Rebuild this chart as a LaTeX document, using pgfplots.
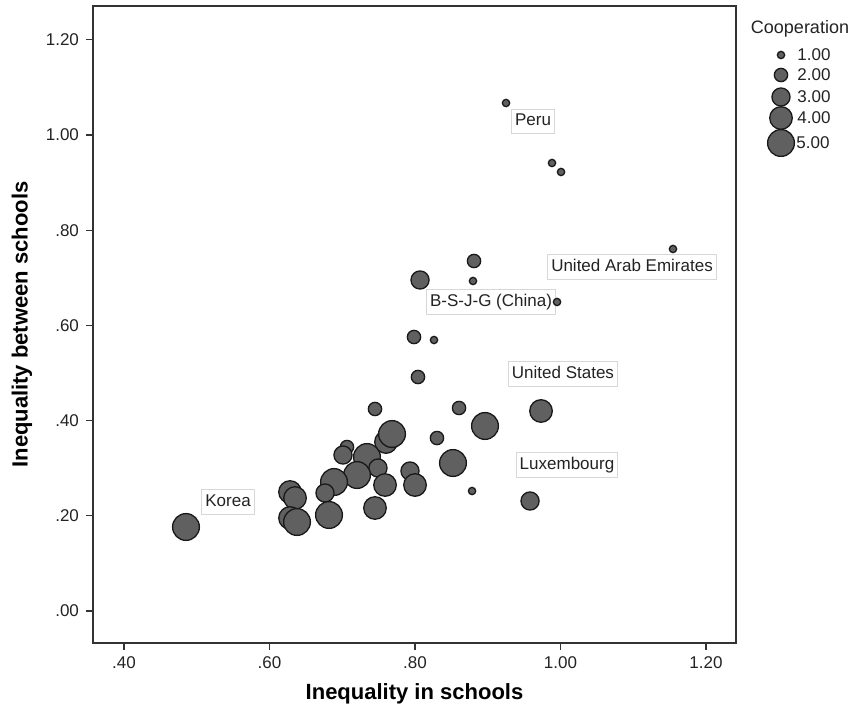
\documentclass[border=0pt]{standalone}
\usepackage{pgfplots}
\usepackage{pgfplotstable}
\pgfplotsset{compat=1.18}
\usepackage{fontspec}
\setmainfont{Liberation Sans}
\definecolor{bub}{RGB}{96,96,96}
\definecolor{edge}{RGB}{25,25,25}
\definecolor{boxc}{RGB}{215,215,215}
\definecolor{txt}{RGB}{35,35,35}

% x = inequality in schools, y = inequality between schools, c = cooperation
\pgfplotstableread{
x y c
0.4852 0.1765 5
0.9251 1.0672 1
0.9883 0.9412 1
1.0007 0.9223 1
1.1546 0.7605 1
0.8811 0.7353 2
0.8069 0.6954 3
0.8797 0.6933 1
0.9952 0.6492 1
0.7986 0.5756 2
0.8261 0.5693 1
0.8041 0.4916 2
0.8605 0.4265 2
0.7450 0.4244 2
0.9732 0.4202 4
0.8962 0.3887 5
0.8302 0.3634 2
0.8522 0.3109 5
0.7931 0.2941 3
0.8000 0.2647 4
0.8784 0.2521 1
0.9581 0.2311 3
0.7601 0.3550 4
0.7684 0.3718 5
0.7065 0.3445 2
0.7010 0.3277 3
0.7340 0.3235 5
0.7491 0.3004 3
0.7203 0.2857 5
0.6887 0.2710 5
0.7588 0.2647 4
0.6763 0.2479 3
0.6282 0.2500 4
0.6351 0.2374 4
0.7450 0.2164 4
0.6818 0.2017 5
0.6282 0.1954 4
0.6378 0.1870 5
}\bubbles

\pgfplotstableread{
x y c
781 55 1
781 75 2
781 97 3
781 118 4
781 143 5
}\legbubbles

\pgfplotsset{
  bubblestyle/.style={scatter, only marks, mark=*,
    scatter/use mapped color={draw=edge, fill=bub, line width=0.65pt},
    visualization depends on={\thisrow{c} \as \coop},
    scatter/@pre marker code/.append style={/tikz/mark size={(8.5+19.5*((\coop-1)/4)^0.85)/4-0.3}}},
}
\tikzset{
  lbl/.style={draw=boxc, fill=white, line width=0.5pt, inner xsep=1.8pt, inner ysep=2.1pt,
    text height=6.3pt, text depth=1.8pt, font=\fontsize{8.5}{10}\selectfont, text=txt},
}

\begin{document}
\begin{tikzpicture}
\begin{axis}[
  at={(0,0)}, anchor=south west,
  scale only axis, width=321.5pt, height=318.5pt,
  xmin=0.3574, xmax=1.2412, ymin=-0.0672, ymax=1.2710,
  axis line style={draw=black!80, line width=0.7pt},
  tick align=outside, xtick pos=bottom, ytick pos=left,
  major tick length=3.5pt,
  tick style={draw=black!80, line width=0.6pt},
  xtick={0.4,0.6,0.8,1.0,1.2},
  xticklabels={.40,.60,.80,1.00,1.20},
  ytick={0,0.2,0.4,0.6,0.8,1.0,1.2},
  yticklabels={.00,.20,.40,.60,.80,1.00,1.20},
  ticklabel style={font=\fontsize{8.5}{10}\selectfont, text=txt},
  xlabel={Inequality in schools},
  ylabel={Inequality between schools},
  xlabel style={at={(rel axis cs:0.5,-0.0801)}, anchor=center, font=\bfseries\fontsize{11}{13}\selectfont, text=black},
  ylabel style={at={(rel axis cs:-0.1104,0.5)}, anchor=center, font=\bfseries\fontsize{11}{13}\selectfont, text=black},
  clip=false,
]
\addplot[bubblestyle] table[x=x, y=y, meta=c] {\bubbles};
\node[lbl] at (axis cs:0.9622,1.0284) {Peru};
\node[lbl] at (axis cs:1.0983,0.7227) {United Arab Emirates};
\node[lbl] at (axis cs:0.9045,0.6492) {B-S-J-G (China)};
\node[lbl] at (axis cs:1.0034,0.4979) {United States};
\node[lbl] at (axis cs:1.0089,0.3067) {Luxembourg};
\node[lbl] at (axis cs:0.5430,0.2290) {Korea};
\end{axis}

\begin{axis}[
  at={(323.5pt,236.5pt)}, anchor=south west,
  scale only axis, width=58pt, height=85pt,
  xmin=740, xmax=856, ymin=0, ymax=170, y dir=reverse,
  hide axis, clip=false,
]
\addplot[bubblestyle] table[x=x, y=y, meta=c] {\legbubbles};
\node[anchor=center, font=\fontsize{9}{11}\selectfont, text=txt] at (axis cs:800,29) {Cooperation};
\node[anchor=west, inner sep=0pt, font=\fontsize{8.5}{10}\selectfont, text=txt] at (axis cs:797,55) {1.00};
\node[anchor=west, inner sep=0pt, font=\fontsize{8.5}{10}\selectfont, text=txt] at (axis cs:797,75) {2.00};
\node[anchor=west, inner sep=0pt, font=\fontsize{8.5}{10}\selectfont, text=txt] at (axis cs:797,97) {3.00};
\node[anchor=west, inner sep=0pt, font=\fontsize{8.5}{10}\selectfont, text=txt] at (axis cs:797,118) {4.00};
\node[anchor=west, inner sep=0pt, font=\fontsize{8.5}{10}\selectfont, text=txt] at (axis cs:796,143) {5.00};
\end{axis}

\pgfresetboundingbox
\path[use as bounding box] (-46.5pt,-34pt) rectangle (381.5pt,321.5pt);
\end{tikzpicture}
\end{document}
